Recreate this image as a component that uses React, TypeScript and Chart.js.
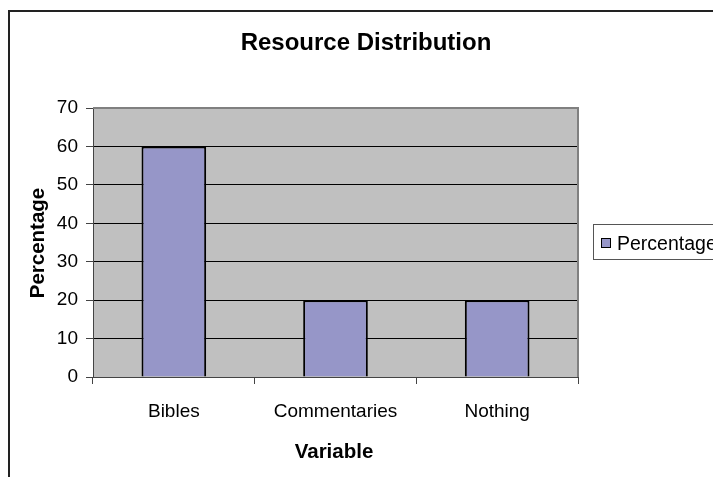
import React, { useEffect, useRef } from "react";
import { Chart, registerables } from "chart.js";

Chart.register(...registerables);

const chartTitle = "Resource Distribution";
const xAxisTitle = "Variable";
const yAxisTitle = "Percentage";
const seriesLabel = "Percentage";
const categories = ["Bibles", "Commentaries", "Nothing"];
const percentageValues = [60, 20, 20];
const yMin = 0;
const yMax = 70;
const yStep = 10;

const FONT = "'Liberation Sans', Arial, sans-serif";
const BAR_COLOR = "#9696C8";

const decorPlugin = {
  id: "decor",
  beforeDraw(chart: any) {
    const { ctx, chartArea } = chart;
    ctx.save();
    ctx.fillStyle = "#ffffff";
    ctx.fillRect(0, 0, chart.width, chart.height);
    ctx.fillStyle = "#C0C0C0";
    ctx.fillRect(chartArea.left, chartArea.top, chartArea.right - chartArea.left, chartArea.bottom - chartArea.top);
    ctx.restore();
  },
  afterDraw(chart: any) {
    const { ctx, chartArea } = chart;
    ctx.save();
    // plot area gray border (top & right)
    ctx.strokeStyle = "#808080";
    ctx.lineWidth = 2;
    ctx.beginPath();
    ctx.moveTo(chartArea.left, chartArea.top);
    ctx.lineTo(chartArea.right, chartArea.top);
    ctx.lineTo(chartArea.right, chartArea.bottom);
    ctx.stroke();

    // outer border
    ctx.strokeStyle = "#222";
    ctx.lineWidth = 2;
    ctx.strokeRect(9, 11, 900, 700);

    // title
    ctx.fillStyle = "#000";
    ctx.textAlign = "center";
    ctx.textBaseline = "alphabetic";
    ctx.font = `bold 24px ${FONT}`;
    ctx.fillText(chartTitle, 366, 50);

    // x axis title
    ctx.font = `bold 20.5px ${FONT}`;
    ctx.fillText(xAxisTitle, 334, 458);

    // y axis title
    ctx.save();
    ctx.translate(43.5, 243);
    ctx.rotate(-Math.PI / 2);
    ctx.fillText(yAxisTitle, 0, 0);
    ctx.restore();

    // legend
    ctx.fillStyle = "#fff";
    ctx.fillRect(593, 224, 200, 35);
    ctx.strokeStyle = "#555";
    ctx.lineWidth = 1;
    ctx.strokeRect(593.5, 224.5, 200, 35);
    ctx.fillStyle = BAR_COLOR;
    ctx.fillRect(602, 239, 9, 9);
    ctx.strokeStyle = "#000";
    ctx.strokeRect(601.5, 238.5, 9, 9);
    ctx.fillStyle = "#000";
    ctx.textAlign = "left";
    ctx.font = `19.5px ${FONT}`;
    ctx.fillText(seriesLabel, 617, 250);
    ctx.restore();
  },
};

export default function App() {
  const canvasRef = useRef<HTMLCanvasElement | null>(null);

  useEffect(() => {
    if (!canvasRef.current) return;
    const chart = new Chart(canvasRef.current, {
      type: "bar",
      data: {
        labels: categories,
        datasets: [
          {
            label: seriesLabel,
            data: percentageValues,
            backgroundColor: BAR_COLOR,
            borderColor: "#000",
            borderWidth: 2,
            barPercentage: 0.4,
            categoryPercentage: 1,
          },
        ],
      },
      options: {
        animation: false,
        responsive: false,
        maintainAspectRatio: false,
        layout: { padding: { top: 108, right: 135, bottom: 0, left: 0 } },
        plugins: {
          legend: { display: false },
          title: { display: false },
          tooltip: { enabled: false },
        },
        scales: {
          x: {
            afterFit(scale: any) {
              scale.height = 100;
            },
            grid: {
              offset: true,
              drawOnChartArea: false,
              drawTicks: true,
              tickLength: 7,
              tickColor: "#444",
            },
            border: { color: "#444", width: 1 },
            ticks: {
              color: "#000",
              padding: 16,
              font: { family: FONT, size: 19 },
            },
          },
          y: {
            min: yMin,
            max: yMax,
            afterFit(scale: any) {
              scale.width = 93;
            },
            grid: {
              color: (c: any) => (c.tick && c.tick.value === yMax ? "rgba(0,0,0,0)" : "#000"),
              tickColor: "#444",
              tickLength: 7,
              lineWidth: 1,
            },
            border: { color: "#444", width: 1 },
            ticks: {
              stepSize: yStep,
              color: "#000",
              padding: 8,
              font: { family: FONT, size: 19 },
            },
          },
        },
      },
      plugins: [decorPlugin],
    });
    return () => chart.destroy();
  }, []);

  return (
    <div style={{ position: "fixed", left: 0, top: 0, width: 713, height: 477 }}>
      <canvas ref={canvasRef} width={713} height={477} style={{ width: 713, height: 477, display: "block" }} />
    </div>
  );
}
